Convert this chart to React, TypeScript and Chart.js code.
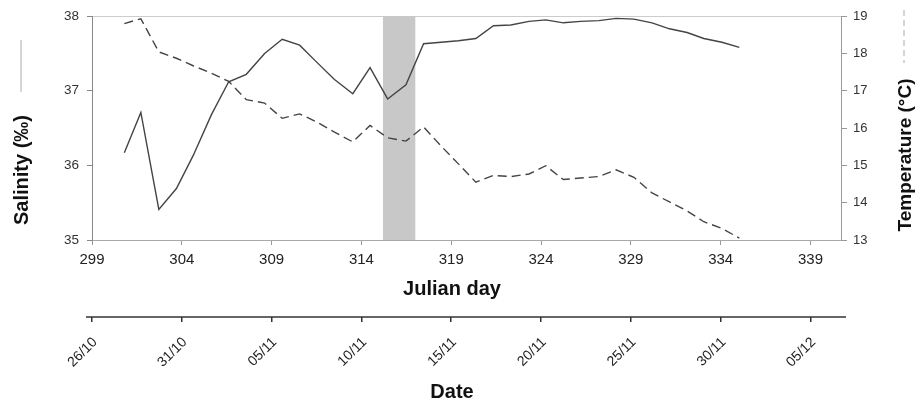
import React, { useEffect, useRef } from 'react';
import { Chart, registerables } from 'chart.js';
Chart.register(...registerables);

// ---- data ----
const days = [300.8, 301.72, 302.72, 303.7, 304.63, 305.65, 306.61, 307.59, 308.61, 309.59, 310.56, 311.48, 312.5, 313.52, 314.48, 315.46, 316.48, 317.46, 318.43, 319.4, 320.37, 321.35, 322.32, 323.33, 324.26, 325.24, 326.21, 327.22, 328.18, 329.17, 330.18, 331.15, 332.13, 333.06, 334.07, 335.04];
const salinity = [36.17, 36.71, 35.41, 35.69, 36.13, 36.68, 37.12, 37.22, 37.5, 37.69, 37.61, 37.39, 37.15, 36.96, 37.31, 36.89, 37.08, 37.63, 37.65, 37.67, 37.7, 37.87, 37.88, 37.93, 37.95, 37.91, 37.93, 37.94, 37.97, 37.96, 37.91, 37.83, 37.78, 37.7, 37.65, 37.58];
const temperature = [18.8, 18.93, 18.04, 17.87, 17.67, 17.47, 17.25, 16.76, 16.67, 16.26, 16.38, 16.17, 15.89, 15.63, 16.07, 15.74, 15.65, 16.03, 15.52, 15.04, 14.55, 14.73, 14.7, 14.77, 14.99, 14.62, 14.66, 14.7, 14.88, 14.68, 14.26, 14.02, 13.78, 13.49, 13.31, 13.05];
const julianTicks = [299, 304, 309, 314, 319, 324, 329, 334, 339];
const dateLabels = ['26/10', '31/10', '05/11', '10/11', '15/11', '20/11', '25/11', '30/11', '05/12'];
const salinityTicks = [35, 36, 37, 38];
const temperatureTicks = [13, 14, 15, 16, 17, 18, 19];
const bandRange = [315.2, 317.0];
const xRange = [299, 340.7];

const FONT = "'Liberation Sans', Arial, sans-serif";

const decorPlugin = {
  id: 'decor',
  beforeDatasetsDraw(chart: any) {
    const { ctx, chartArea, scales } = chart;
    const x = scales.x;
    const a = x.getPixelForValue(bandRange[0]);
    const b = x.getPixelForValue(bandRange[1]);
    ctx.save();
    ctx.fillStyle = '#c8c8c8';
    ctx.fillRect(a, chartArea.top, b - a, chartArea.bottom - chartArea.top);
    ctx.restore();
  },
  afterDraw(chart: any) {
    const { ctx, scales } = chart;
    const x2 = scales.x2;
    ctx.save();
    // date axis line
    ctx.strokeStyle = '#333';
    ctx.lineWidth = 1.5;
    ctx.beginPath();
    ctx.moveTo(x2.left - 6, x2.top);
    ctx.lineTo(x2.right + 5, x2.top);
    ctx.stroke();

    ctx.fillStyle = '#111';
    ctx.font = `bold 20px ${FONT}`;
    ctx.textAlign = 'center';
    ctx.textBaseline = 'middle';
    ctx.fillText('Julian day', 452, 289);
    ctx.fillText('Date', 452, 392);

    ctx.save();
    ctx.translate(22, 170);
    ctx.rotate(-Math.PI / 2);
    ctx.fillText('Salinity (‰)', 0, 0);
    ctx.restore();

    ctx.save();
    ctx.font = `bold 19px ${FONT}`;
    ctx.translate(906, 155);
    ctx.rotate(-Math.PI / 2);
    ctx.fillText('Temperature (°C)', 0, 0);
    ctx.restore();

    // legend samples
    ctx.strokeStyle = '#c8c8c8';
    ctx.lineWidth = 1.5;
    ctx.beginPath();
    ctx.moveTo(21, 40);
    ctx.lineTo(21, 92);
    ctx.stroke();
    ctx.setLineDash([6, 4]);
    ctx.beginPath();
    ctx.moveTo(904, 10);
    ctx.lineTo(904, 63);
    ctx.stroke();
    ctx.restore();
  },
};

export default function App() {
  const ref = useRef<HTMLCanvasElement>(null);
  useEffect(() => {
    document.body.style.margin = '0';
    const setTicks = (vals: number[]) => (s: any) => {
      s.ticks = vals.map((v) => ({ value: v }));
    };
    const chart = new Chart(ref.current as HTMLCanvasElement, {
      type: 'line',
      data: {
        datasets: [
          {
            label: 'Salinity',
            data: days.map((d, i) => ({ x: d, y: salinity[i] })),
            borderColor: '#444',
            borderWidth: 1.4,
            pointRadius: 0,
            yAxisID: 'y',
            xAxisID: 'x',
          },
          {
            label: 'Temperature',
            data: days.map((d, i) => ({ x: d, y: temperature[i] })),
            borderColor: '#444',
            borderWidth: 1.4,
            borderDash: [9, 5],
            pointRadius: 0,
            yAxisID: 'y1',
            xAxisID: 'x',
          },
        ],
      },
      options: {
        animation: false,
        responsive: false,
        devicePixelRatio: 1,
        layout: { padding: 0 },
        plugins: { legend: { display: false }, tooltip: { enabled: false } },
        scales: {
          x: {
            type: 'linear',
            position: 'bottom',
            weight: 1,
            min: xRange[0],
            max: xRange[1],
            afterBuildTicks: setTicks(julianTicks),
            afterFit: (s: any) => { s.height = 77; },
            ticks: { autoSkip: false, maxRotation: 0, padding: 6, color: '#222', font: { family: FONT, size: 15 } },
            grid: { drawOnChartArea: false, tickLength: 5, color: '#999' },
            border: { color: '#aaa' },
          },
          x2: {
            type: 'linear',
            position: 'bottom',
            weight: 2,
            min: xRange[0],
            max: xRange[1],
            afterBuildTicks: setTicks(julianTicks),
            afterFit: (s: any) => { s.height = 87; },
            ticks: {
              autoSkip: false,
              minRotation: 45,
              maxRotation: 45,
              padding: 12,
              labelOffset: 3,
              color: '#222',
              font: { family: FONT, size: 14 },
              callback: (v: any) => dateLabels[julianTicks.indexOf(Number(v))],
            },
            grid: { drawOnChartArea: false, tickLength: 5, color: '#333', lineWidth: 1.5 },
            border: { display: false },
          },
          xTop: {
            type: 'linear',
            position: 'top',
            min: xRange[0],
            max: xRange[1],
            afterFit: (s: any) => { s.height = 14; },
            ticks: { display: false },
            grid: { drawOnChartArea: false, drawTicks: false },
            border: { color: '#ccc' },
          },
          y: {
            type: 'linear',
            position: 'left',
            min: salinityTicks[0],
            max: salinityTicks[salinityTicks.length - 1],
            afterBuildTicks: setTicks(salinityTicks),
            afterFit: (s: any) => { s.width = 92; },
            ticks: { padding: 8, color: '#333', font: { family: FONT, size: 13.5 } },
            grid: { drawOnChartArea: false, tickLength: 5, color: '#888' },
            border: { color: '#888' },
          },
          y1: {
            type: 'linear',
            position: 'right',
            min: temperatureTicks[0],
            max: temperatureTicks[temperatureTicks.length - 1],
            afterBuildTicks: setTicks(temperatureTicks),
            afterFit: (s: any) => { s.width = 76; },
            ticks: { padding: 6, color: '#333', font: { family: FONT, size: 13 } },
            grid: { drawOnChartArea: false, tickLength: 6, color: '#999' },
            border: { color: '#999' },
          },
        },
      },
      plugins: [decorPlugin],
    } as any);
    return () => chart.destroy();
  }, []);
  return (
    <div style={{ width: 917, height: 404 }}>
      <canvas ref={ref} width={917} height={404} />
    </div>
  );
}
